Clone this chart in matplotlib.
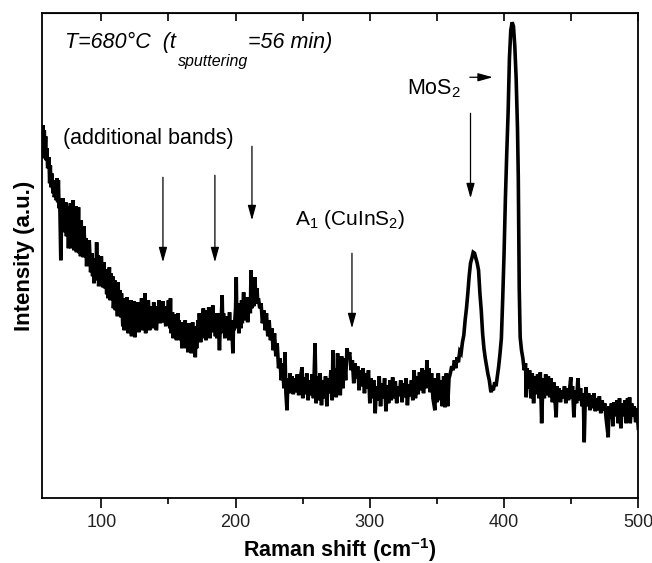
import matplotlib.pyplot as plt

plt.rcParams['font.family'] = ['Liberation Sans', 'DejaVu Sans']
plt.rcParams['mathtext.fontset'] = 'custom'
plt.rcParams['mathtext.rm'] = 'Liberation Sans'
plt.rcParams['mathtext.it'] = 'Liberation Sans:italic'
plt.rcParams['mathtext.bf'] = 'Liberation Sans:bold'
plt.rcParams['mathtext.default'] = 'regular'

# Raman spectrum (intensity in arbitrary units)
shift_lo = [56, 56.5, 57, 57.5, 58, 58.5, 59, 59.5, 60, 61, 61.5, 62, 62.5, 63, 64, 64.5, 65, 66,
            66.5, 67, 67.5, 68, 68.5, 69, 69.8, 70.5, 71, 71.5, 72, 72.5, 73, 73.5, 74, 75, 75.5,
            76, 76.5, 77, 77.5, 78, 78.5, 79, 79.5, 80, 80.5, 81, 81.5, 82, 82.5, 83, 83.5, 84,
            84.5, 85, 85.5, 86, 86.5, 87, 88, 88.5, 89, 90, 90.5, 91, 92, 93, 93.5, 94, 94.5, 95,
            96, 96.5, 97, 97.5, 98, 99, 99.5, 100, 101, 102, 102.5, 103, 104, 104.5, 105, 106,
            106.5, 107, 108, 108.5, 109, 110, 110.5, 111, 112, 112.5, 113, 114, 114.5, 115, 116,
            116.5, 117, 118, 118.5, 119, 120, 120.5, 121, 122, 122.5, 123, 124, 124.5, 125, 126,
            126.5, 127, 128, 128.5, 129, 130, 130.5, 131, 132, 132.5, 133, 134, 134.5, 135, 136,
            136.5, 137, 138, 138.5, 139, 140, 140.5, 141, 142, 142.5, 143, 144, 144.5, 145, 146,
            146.5, 147, 148, 148.5, 149, 150]
int_lo = [360, 373, 340, 368, 345, 362, 338, 350, 330, 341, 315, 333, 311, 325, 305, 318, 301, 312,
          298, 320, 296, 318, 290, 300, 238, 285, 268, 300, 270, 290, 266, 296, 262, 292, 250,
          285, 255, 295, 250, 280, 260, 298, 248, 275, 252, 292, 246, 278, 250, 291, 245, 270,
          242, 278, 250, 265, 241, 272, 245, 260, 232, 255, 235, 258, 226, 245, 222, 240, 215, 238,
          218, 256, 220, 243, 212, 235, 215, 242, 211, 236, 210, 229, 204, 228, 200, 231,
          198, 225, 203, 222, 190, 218, 188, 212, 182, 216, 185, 208, 181, 205, 172,
          200, 168, 196, 178, 201, 165, 192, 170, 198, 162, 188, 168, 197, 161, 190,
          172, 196, 166, 192, 170, 200, 168, 190, 175, 205, 165, 192, 172, 198, 168,
          192, 176, 188, 170, 196, 175, 192, 168, 190, 177, 198, 175, 190, 180, 197,
          176, 189, 172, 192, 175, 198]

shift_mid = [151, 151.5, 152, 153, 153.5, 154, 155, 155.5, 156, 157, 157.5, 158, 159, 159.5, 160,
             161, 162, 162.5, 163, 164, 164.5, 165, 166, 166.5, 167, 168, 168.5, 169, 170, 170.5,
             171, 172, 172.5, 173, 174, 174.5, 175, 176, 176.5, 177, 178, 178.5, 179, 180, 181,
             181.5, 182, 183, 183.5, 184, 185, 185.5, 186, 187, 188, 188.5, 189, 190, 190.5, 191,
             192, 192.5, 193, 194, 195, 195.5, 196, 197, 198, 198.5, 199, 200, 200.5, 201, 202,
             202.5, 203, 204, 204.5, 205, 206, 206.5, 207, 208, 208.5, 209, 210, 211, 211.5, 212,
             213, 213.5, 214.5, 215, 216, 216.5, 217, 218, 219, 220, 221, 222, 223, 224, 225, 226,
             227, 228, 229, 230, 231, 232, 233, 234, 235, 236, 236.8, 237.5, 238.3, 239, 240,
             240.5, 241, 242, 243, 244, 245, 246, 247, 248, 249.5, 250, 251, 252, 253, 254, 255,
             256, 257, 258, 259.2, 260, 261, 262, 263, 264, 265, 266, 267, 268, 269, 270, 271,
             272, 272.5, 273, 274, 275, 276, 276.5, 277, 278, 279, 280, 281, 282, 283, 284, 285,
             286, 287, 288, 289, 290, 291, 292, 293, 294, 295, 296, 297, 298, 299, 300]
int_mid = [170, 200, 165, 186, 160, 184, 162, 180, 158, 185, 163, 178, 158, 176, 150,
           174, 155, 178, 150, 170, 146, 175, 152, 168, 145, 176, 150, 172, 141, 165,
           150, 178, 158, 185, 156, 182, 160, 190, 162, 181, 158, 188, 165, 191, 160,
           180, 166, 193, 168, 185, 162, 180, 160, 185, 148, 170, 165, 203, 168, 185,
           160, 182, 165, 180, 158, 186, 162, 178, 145, 175, 168, 190, 221, 170, 192,
           165, 195, 170, 198, 175, 206, 178, 200, 180, 201, 176, 200, 185, 228, 190,
           205, 192, 221, 195, 210, 195, 200, 190, 195, 175, 188, 168, 185, 162, 178, 158,
           170, 148, 165, 142, 155, 130, 140, 118, 135, 110, 146, 105, 88, 120, 105,
           125, 108, 122, 104, 120, 106, 124, 103, 118, 131, 100, 121, 104, 125, 98, 118,
           103, 124, 100, 155, 95, 122, 98, 125, 93, 118, 100, 122, 92, 120, 105, 128,
           98, 148, 110, 130, 101, 145, 108, 138, 103, 142, 110, 140, 118, 150, 140, 146,
           128, 138, 115, 135, 120, 132, 108, 128, 112, 130, 105, 125, 110, 128, 95]

shift_hi = [301, 302, 303, 304, 305, 306, 307, 308, 309, 310, 311, 312, 313, 314, 315, 316, 317,
            318, 319, 320, 321, 322, 323, 324, 325, 326, 327, 328, 329, 330, 331, 332, 333, 334,
            335, 336, 337, 338, 339, 340, 341, 342, 342.5, 343, 344, 345, 346, 347, 348.5, 349,
            350, 351, 352, 353, 354, 355, 356, 357, 358, 359, 360, 361, 362, 363, 364, 365, 366,
            367, 368, 369, 370, 371, 372, 373, 374, 375, 376, 377, 378, 379, 380, 381, 382, 383,
            384, 385, 386, 387, 388, 389, 390, 390.5, 391, 392, 393, 394, 395, 396, 397, 398, 399,
            400, 401, 402, 403, 404, 405, 406, 407, 408, 409, 410, 410.6, 411.3, 412, 413, 414,
            415, 416, 416.5, 417, 418, 419, 420, 421, 422, 423, 424, 425, 426, 427, 428, 429, 430,
            431, 432, 433, 434, 435, 436, 437, 438.8, 439.5, 440, 441, 442, 443, 444, 445, 446,
            447, 448, 449.7, 450, 451, 452, 453, 454, 455, 456, 457, 458, 459, 459.7, 460.5, 461,
            462, 463, 464, 465, 466, 467, 468, 469, 470, 471, 472, 473, 474, 475, 476, 477.6, 478,
            479, 480, 481, 482, 483, 484, 485, 486, 487, 488, 489, 490, 491, 492, 493, 493.5, 494,
            495, 496, 497, 498, 499, 500]
int_hi = [120, 100, 118, 85, 112, 98, 122, 92, 115, 100, 120, 87, 113, 95, 118, 98, 121,
          100, 117, 95, 112, 102, 118, 96, 115, 101, 120, 93, 114, 102, 118, 98, 128, 100,
          122, 104, 126, 108, 130, 105, 128, 110, 138, 112, 130, 106, 125, 100, 88, 120,
          96, 125, 98, 118, 92, 122, 91, 125, 92, 120, 125, 132, 128, 138, 130, 141, 136,
          147, 145, 156, 163, 178, 190, 205, 222, 235, 240, 246, 245, 240, 235, 228, 205, 188,
          165, 150, 140, 132, 124, 118, 108, 106, 112, 108, 116, 112, 122, 132, 145, 160, 200,
          245, 300, 345, 385, 440, 468, 476, 472, 452, 420, 370, 321, 210, 161, 148, 140,
          128, 135, 101, 130, 110, 128, 100, 125, 95, 122, 104, 124, 100, 126, 75, 120, 100,
          124, 103, 122, 101, 120, 96, 116, 81, 112, 98, 110, 96, 108, 100, 112, 95,
          110, 98, 121, 100, 112, 81, 108, 95, 120, 98, 110, 92, 105, 56, 100, 111,
          92, 105, 88, 103, 90, 105, 87, 100, 88, 102, 85, 98, 88, 95, 80, 61, 92,
          80, 95, 72, 96, 82, 98, 75, 100, 70, 95, 82, 98, 75, 100, 80, 101, 75,
          95, 82, 92, 76, 90, 70]

raman_shift = shift_lo + shift_mid + shift_hi
intensity = int_lo + int_mid + int_hi

x_major = [100, 200, 300, 400, 500]
x_minor = [150, 250, 350, 450]

fig = plt.figure(figsize=(6.52, 5.63), dpi=100)
ax = fig.add_axes([0.064, 0.115, 0.915, 0.8625])
ax.plot(raman_shift, intensity, color='black', lw=2.6, solid_joinstyle='miter')
ax.set_xlim(55.6, 500)
ax.set_ylim(0, 485.6)
ax.set_xticks(x_major)
ax.set_xticks(x_minor, minor=True)
ax.set_yticks([])
ax.tick_params(axis='x', which='major', direction='out', length=7, width=1.2,
               labelsize=13, pad=4, labelcolor='#222222')
ax.tick_params(axis='x', which='minor', direction='out', length=4, width=1.2)
for s in ax.spines.values():
    s.set_linewidth(1.3)

top = ax.secondary_xaxis('top')
top.set_xticks(x_major, labels=[])
top.set_xticks(x_minor, minor=True)
top.tick_params(which='both', direction='in', length=6, width=1.2)

ax.set_xlabel('Raman shift (cm$^{-1}$)', fontsize=15.5, fontweight='bold', labelpad=4)
ax.set_ylabel('Intensity (a.u.)', fontsize=16, fontweight='bold', labelpad=5)

# italic heading with subscript, pieces chained one after another
t1 = ax.text(73, 450, 'T=680°C  (t', fontsize=15.5, style='italic', va='baseline')
t2 = ax.annotate('sputtering', xy=(1.02, -0.02), xycoords=t1, fontsize=11.5, style='italic',
                 va='top', ha='left')
t3 = ax.annotate('=56 min)', xy=(1, 0), xycoords=(t2, t1), fontsize=15.5, style='italic',
                 va='bottom', ha='left')

ax.text(71.5, 354, '(additional bands)', fontsize=15.5, va='baseline')
ax.text(244.3, 273, 'A$_1$ (CuInS$_2$)', fontsize=15, va='baseline')
ax.text(327.8, 404, 'MoS$_2$', fontsize=15.5, va='baseline')

arrow = dict(arrowstyle='-|>,head_length=0.9,head_width=0.25', lw=0.9, color='black',
             shrinkA=0, shrinkB=0, mutation_scale=10)
# (x, y_start, y_end) of the vertical marker arrows
band_arrows = [(145.9, 321, 236), (184.6, 323, 236), (212.2, 352, 278),
               (286.7, 245, 170), (375.0, 385, 300)]
for xa, y0, y1 in band_arrows:
    ax.annotate('', xy=(xa, y1), xytext=(xa, y0), arrowprops=arrow)
ax.annotate('', xy=(391.6, 421), xytext=(374.5, 421), arrowprops=arrow)

fig.savefig('out.png', dpi=100)
